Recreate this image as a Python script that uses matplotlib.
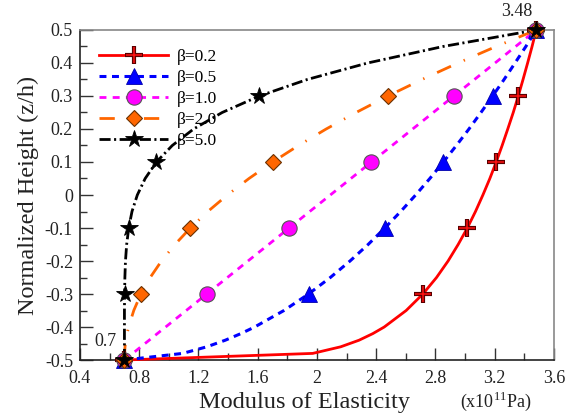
import matplotlib
matplotlib.use("Agg")
import matplotlib.pyplot as plt
from matplotlib.ticker import MultipleLocator
from matplotlib.lines import Line2D

plt.rcParams['font.family'] = ['Liberation Serif', 'DejaVu Serif']
plt.rcParams['axes.unicode_minus'] = False
plt.rcParams['lines.scale_dashes'] = False
plt.rcParams['mathtext.fontset'] = 'custom'
plt.rcParams['mathtext.rm'] = 'Liberation Serif'

# Normalized height (z/h)
z = [-0.50, -0.48, -0.46, -0.44, -0.42, -0.40, -0.35, -0.30, -0.25, -0.20, -0.15, -0.10,
     -0.05, 0.00, 0.05, 0.10, 0.15, 0.20, 0.25, 0.30, 0.35, 0.40, 0.45, 0.50]

# Modulus of elasticity (x10^11 Pa) for each beta
E_b02 = [0.700, 1.971, 2.160, 2.284, 2.377, 2.454, 2.602, 2.715, 2.807, 2.885, 2.953, 3.015,
         3.070, 3.120, 3.167, 3.210, 3.250, 3.288, 3.325, 3.359, 3.391, 3.422, 3.452, 3.480]
E_b05 = [0.700, 1.093, 1.256, 1.381, 1.486, 1.579, 1.777, 1.943, 2.090, 2.223, 2.345, 2.458,
         2.565, 2.666, 2.762, 2.853, 2.941, 3.026, 3.107, 3.186, 3.263, 3.337, 3.410, 3.480]
E_b10 = [0.700, 0.756, 0.811, 0.867, 0.922, 0.978, 1.117, 1.256, 1.395, 1.534, 1.673, 1.812,
         1.951, 2.090, 2.229, 2.368, 2.507, 2.646, 2.785, 2.924, 3.063, 3.202, 3.341, 3.480]
E_b20 = [0.700, 0.701, 0.704, 0.710, 0.718, 0.728, 0.763, 0.811, 0.874, 0.950, 1.041, 1.145,
         1.263, 1.395, 1.541, 1.701, 1.875, 2.062, 2.264, 2.479, 2.709, 2.952, 3.209, 3.480]
E_b50 = [0.700, 0.700, 0.700, 0.700, 0.700, 0.700, 0.700, 0.701, 0.703, 0.707, 0.715, 0.729,
         0.751, 0.787, 0.840, 0.916, 1.023, 1.167, 1.360, 1.611, 1.934, 2.342, 2.851, 3.480]

labels = ['β=0.2', 'β=0.5', 'β=1.0', 'β=2.0', 'β=5.0']
marker_idx = [0, 7, 11, 15, 19, 23]   # z = -0.5, -0.3, -0.1, 0.1, 0.3, 0.5

xticks = [0.4, 0.8, 1.2, 1.6, 2.0, 2.4, 2.8, 3.2, 3.6]
xticklabels = ['0.4', '0.8', '1.2', '1.6', '2', '2.4', '2.8', '3.2', '3.6']
yticks = [-0.5, -0.4, -0.3, -0.2, -0.1, 0.0, 0.1, 0.2, 0.3, 0.4, 0.5]
yticklabels = ['-0.5', '-0.4', '-0.3', '-0.2', '-0.1', '0', '0.1', '0.2', '0.3', '0.4', '0.5']

fig = plt.figure(figsize=(5.71, 4.16), dpi=100)
ax = fig.add_axes([0.1401, 0.1346, 0.8301, 0.7933])

line_styles = [
    dict(color='#ff0000', lw=2.0, ls='-'),
    dict(color='#0000ff', lw=2.2, dashes=(5, 4)),
    dict(color='#ff00ff', lw=2.0, dashes=(5, 4.5)),
    dict(color='#ff6600', lw=2.0, dashes=(11, 10, 1, 10)),
    dict(color='#000000', lw=2.0, dashes=(8, 2.5, 1.5, 2.5)),
]
marker_styles = [
    [dict(marker='+', ms=13, mec='#5a0000', mew=3.0), dict(marker='+', ms=12, mec='#ff1010', mew=1.1)],
    [dict(marker='^', ms=11, mec='#0000aa', mew=0.6, mfc='#0000ff')],
    [dict(marker='o', ms=11, mec='#555555', mew=0.8, mfc='#ff00ff')],
    [dict(marker='D', ms=8.5, mec='#6a3000', mew=0.8, mfc='#ff6600')],
    [dict(marker='*', ms=13, mec='#000000', mew=0.6, mfc='#000000')],
]
series = [E_b02, E_b05, E_b10, E_b20, E_b50]

handles = []
for E, ls_ in zip(series, line_styles):
    ax.plot(E, z, zorder=3, clip_on=False, **ls_)
for E, ls_, mks in zip(series, line_styles, marker_styles):
    xm = [E[i] for i in marker_idx]
    ym = [z[i] for i in marker_idx]
    parts = [Line2D([], [], **ls_)]
    for mk in mks:
        ax.plot(xm, ym, ls='none', zorder=4, clip_on=False, **mk)
        parts.append(Line2D([], [], ls='none', **mk))
    handles.append(tuple(parts))

ax.set_xlim(0.4, 3.6)
ax.set_ylim(-0.5, 0.5)
ax.set_xticks(xticks)
ax.set_xticklabels(xticklabels)
ax.set_yticks(yticks)
ax.set_yticklabels(yticklabels)
ax.xaxis.set_minor_locator(MultipleLocator(0.2))
ax.yaxis.set_minor_locator(MultipleLocator(0.05))
ax.tick_params(which='both', direction='in', top=False, right=False, colors='#333333',
               labelsize=13, labelcolor='#222222')
ax.tick_params(which='major', length=9, width=1.0)
ax.tick_params(which='minor', length=5, width=1.0)
ax.tick_params(axis='x', pad=7)
ax.tick_params(axis='y', pad=5)

for s in ['left', 'bottom']:
    ax.spines[s].set_color('#222222')
    ax.spines[s].set_linewidth(1.2)
for s in ['top', 'right']:
    ax.spines[s].set_color('#888888')
    ax.spines[s].set_linewidth(1.2)

ax.set_ylabel('Normalized Height (z/h)', fontsize=17.5, labelpad=4, color='#222222')
fig.text(0.534, 0.008, 'Modulus of Elasticity', fontsize=17.5, ha='center', va='bottom', color='#222222')
fig.text(0.868, 0.008, '(x10$^{\\mathregular{11}}$Pa)', fontsize=13, ha='center', va='bottom', color='#222222')

ax.annotate('3.48', xy=(3.48, 0.5), xytext=(-3, 7), textcoords='offset points',
            ha='right', va='bottom', fontsize=13, color='#222222', annotation_clip=False)
ax.annotate('0.7', xy=(0.7, -0.5), xytext=(-6, 7), textcoords='offset points',
            ha='right', va='bottom', fontsize=13, color='#222222', annotation_clip=False)

leg = ax.legend(handles, labels, loc='upper left', bbox_to_anchor=(0.018, 0.975), frameon=False,
                fontsize=12.5, handlelength=4.0, labelspacing=0.28, handletextpad=0.5,
                borderaxespad=0.2)

fig.savefig('out.png', dpi=100)
